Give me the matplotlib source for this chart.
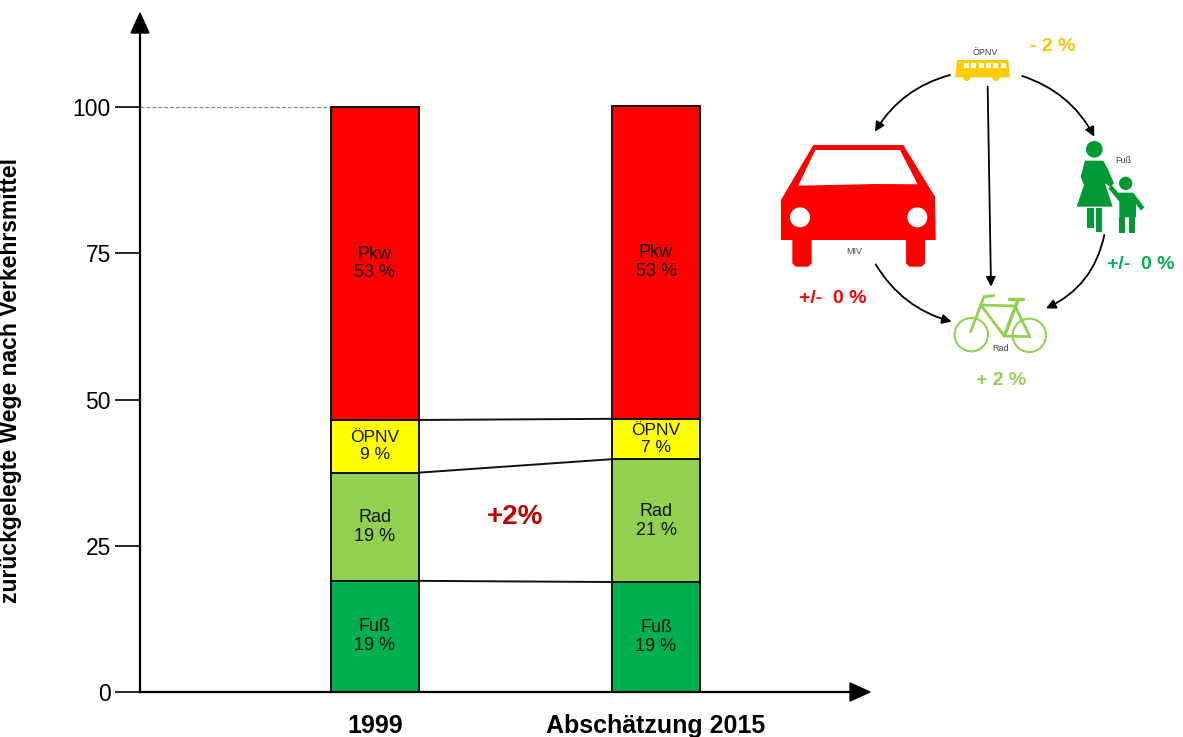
#!/usr/bin/python

import numpy as np
import matplotlib
matplotlib.use('Agg')
import matplotlib.pyplot as plt
from matplotlib.patches import Polygon, Circle, Rectangle, FancyArrowPatch

plt.rcParams['font.family'] = ['Liberation Sans', 'DejaVu Sans']

# values
years = ['1999', 'Abschätzung 2015']
modes = ['Fuß', 'Rad', 'ÖPNV', 'Pkw']
heights_1999 = [19.0, 18.5, 9.0, 53.5]
heights_2015 = [18.8, 21.0, 6.9, 53.5]
labels_1999 = ['19 %', '19 %', '9 %', '53 %']
labels_2015 = ['19 %', '21 %', '7 %', '53 %']
colors = ['#00B050', '#92D050', '#FFFF00', '#FF0000']
yticks = [0, 25, 50, 75, 100]

fig = plt.figure(figsize=(11.83, 7.37), dpi=100)
W, H = 1183.0, 737.0

# main axes, left edge and baseline at the drawn axis lines
ax = fig.add_axes([140/W, (H-692)/H, (850-140)/W, (692-30)/H])
ax.set_xlim((140-375)/281.0, (850-375)/281.0)
ax.set_ylim(0, (692-30)/5.85)

for i, (h, lab) in enumerate([(heights_1999, labels_1999), (heights_2015, labels_2015)]):
    bottoms = np.concatenate(([0], np.cumsum(h)[:-1]))
    ax.bar([i]*4, h, bottom=bottoms, width=88/281.0, color=colors, edgecolor='#111111', lw=1.4, zorder=2)
    for b, v, m, l in zip(bottoms, h, modes, lab):
        fs = 12.5 if m == 'ÖPNV' else 13
        ax.text(i, b+v/2, m+'\n'+l, ha='center', va='center', fontsize=fs, color='#111111', linespacing=1.15, zorder=3)

# connecting lines between the bars
top_1999 = np.cumsum(heights_1999)
top_2015 = np.cumsum(heights_2015)
half = 44/281.0
for a, b in zip(top_1999[:3], top_2015[:3]):
    ax.plot([half, 1-half], [a, b], color='#111111', lw=1.4, zorder=1)
ax.plot([ax.get_xlim()[0], -half], [100, 100], color='#888888', lw=0.8, ls='--', zorder=1)

ax.text(0.5, 30, '+2%', color='#C00000', fontsize=20, fontweight='bold', ha='center', va='center')

for s in ['top', 'right']:
    ax.spines[s].set_visible(False)
for s in ['left', 'bottom']:
    ax.spines[s].set_linewidth(1.6)
ax.set_xticks([0, 1])
ax.set_xticklabels(years, fontsize=18, fontweight='bold')
ax.set_yticks(yticks)
ax.tick_params(axis='x', length=0, pad=16)
ax.tick_params(axis='y', length=18, width=1.2, labelsize=16.5, pad=3, direction='out')
ax.set_ylabel('zurückgelegte Wege nach Verkehrsmittel', fontsize=16.5, fontweight='bold', labelpad=34)
ax.yaxis.set_label_coords(-118/710.0, 0.47)

# overlay in pixels for axis arrows and pictograms
ov = fig.add_axes([0, 0, 1, 1], facecolor='none')
ov.set_xlim(0, W)
ov.set_ylim(H, 0)
ov.axis('off')

ov.add_patch(Polygon([(131, 33), (149, 33), (140, 13)], color='black'))
ov.add_patch(Polygon([(850, 683), (850, 701), (870, 692)], color='black'))


def z(pts):
    # coordinates measured on the 3x crop starting at (760, 20)
    return [(760+x/3.0, 20+y/3.0) for x, y in pts]


def zc(x, y, r, **kw):
    ov.add_patch(Circle((760+x/3.0, 20+y/3.0), r/3.0, **kw))


def zp(pts, **kw):
    ov.add_patch(Polygon(z(pts), **kw))


# car
red = '#FF0000'
zp([(160, 375), (430, 375), (525, 530), (527, 660), (495, 660), (495, 730), (485, 740), (448, 740), (438, 730),
    (438, 660), (155, 660), (155, 730), (145, 740), (107, 740), (97, 730), (97, 660), (63, 660), (63, 540)], color=red, lw=0)
zp([(166, 390), (420, 390), (473, 493), (350, 492), (115, 497)], color='white', lw=0)
zc(120, 592, 30, color='white', lw=0)
zc(472, 592, 30, color='white', lw=0)

# bus
bus = '#FFCC00'
zp([(592, 120), (745, 120), (750, 172), (585, 172)], color=bus, lw=0)
zc(620, 172, 11, color=bus, lw=0)
zc(708, 172, 11, color=bus, lw=0)
for wx in [612, 634, 656, 678, 700, 722]:
    ov.add_patch(Rectangle((760+wx/3.0, 20+128/3.0), 15/3.0, 17/3.0, color='white', lw=0))

# pedestrians
green = '#009933'
zc(1003, 388, 25, color=green, lw=0)
zp([(975, 422), (1030, 422), (1045, 450), (1062, 490), (1050, 500), (1035, 490), (1058, 560), (950, 560), (972, 495), (962, 470)],
   color=green, lw=0)
ov.add_patch(Rectangle((760+982/3.0, 20+565/3.0), 20/3.0, 58/3.0, color=green, lw=0))
ov.add_patch(Rectangle((760+1007/3.0, 20+565/3.0), 20/3.0, 72/3.0, color=green, lw=0))
zc(1097, 490, 20, color=green, lw=0)
zp([(1075, 518), (1120, 518), (1153, 562), (1143, 572), (1128, 552), (1128, 592), (1078, 592), (1078, 545), (1045, 505), (1055, 495)],
   color=green, lw=0)
ov.add_patch(Rectangle((760+1078/3.0, 20+592/3.0), 18/3.0, 46/3.0, color=green, lw=0))
ov.add_patch(Rectangle((760+1108/3.0, 20+592/3.0), 18/3.0, 46/3.0, color=green, lw=0))

# bicycle
lime = '#92D050'
zc(634, 944, 50, fill=False, ec=lime, lw=1.5)
zc(808, 946, 50, fill=False, ec=lime, lw=1.5)
for seg in [[(632, 935), (672, 830), (702, 827)], [(662, 855), (765, 858), (810, 950), (733, 948), (662, 855)],
            [(733, 948), (772, 845)], [(748, 836), (790, 836)]]:
    xy = np.array(z(seg))
    ov.plot(xy[:, 0], xy[:, 1], color=lime, lw=2 if len(seg) > 2 else 2.5, solid_capstyle='round')

# flow arrows
arrows = [((570, 165), (345, 335), 0.2), ((787, 168), (1003, 350), -0.2), ((683, 200), (693, 800), 0.0),
          ((347, 733), (575, 905), 0.2), ((1033, 645), (858, 865), -0.25)]
for a, b, rad in arrows:
    p, q = z([a, b])
    ov.add_patch(FancyArrowPatch(p, q, connectionstyle='arc3,rad=%g' % rad, arrowstyle='-|>', mutation_scale=14,
                                 lw=1.3, color='black', shrinkA=0, shrinkB=0))

# pictogram labels
small = [('ÖPNV', 675, 96), ('MIV', 283, 695), ('Fuß', 1090, 421), ('Rad', 722, 985)]
for t, x, y in small:
    ov.text(760+x/3.0, 20+y/3.0, t, fontsize=6.5, color='#444444', ha='center', va='center')
delta = [('- 2 %', 878, 80, '#FFC000'), ('+/-  0 %', 218, 836, '#FF0000'), ('+/-  0 %', 1142, 733, '#00B050'),
         ('+ 2 %', 724, 1082, '#92D050')]
for t, x, y, c in delta:
    ov.text(760+x/3.0, 20+y/3.0, t, fontsize=14, fontweight='bold', color=c, ha='center', va='center')

fig.savefig('out.png', dpi=100)
